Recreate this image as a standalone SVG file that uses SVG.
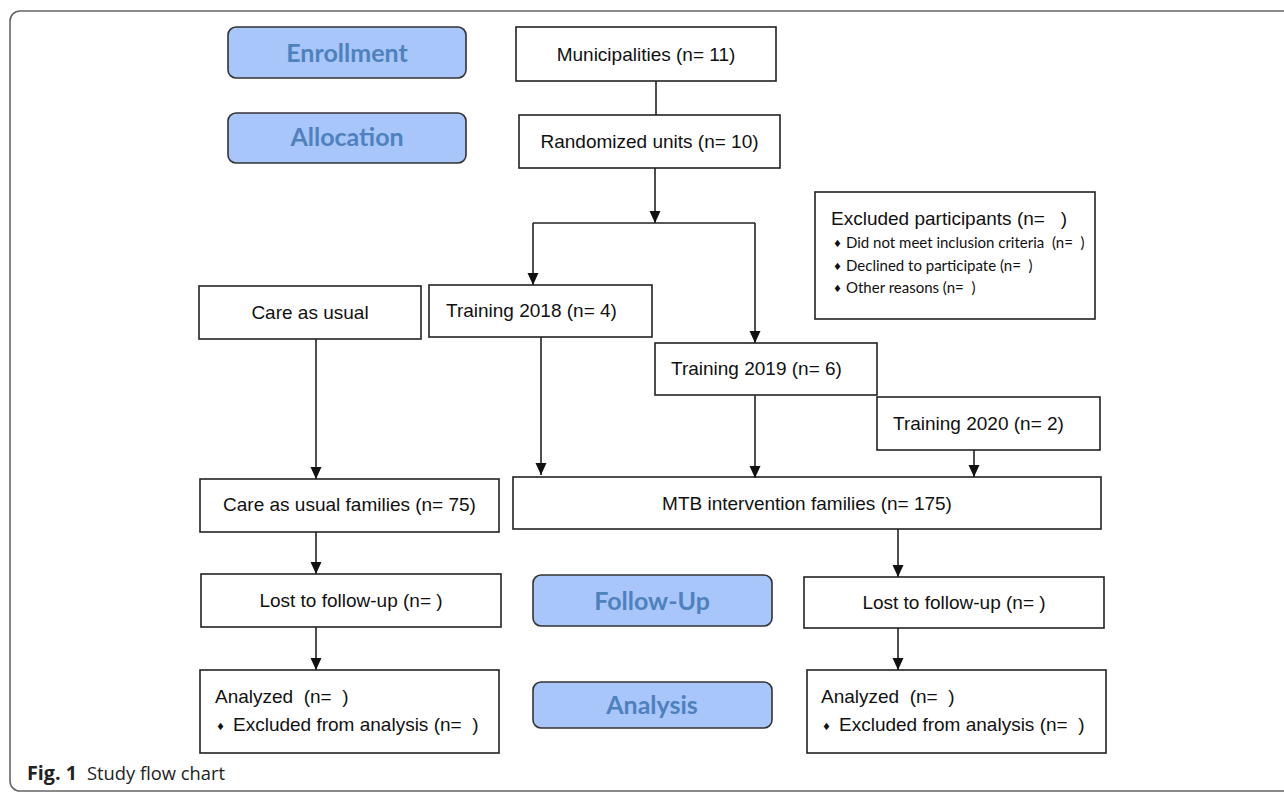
<svg xmlns="http://www.w3.org/2000/svg" width="1284" height="793" viewBox="0 0 1284 793" xml:space="preserve">
<style>
text{white-space:pre}
.box{fill:#fff;stroke:#222;stroke-width:1.6}
.stage{fill:#a8c6fa;stroke:#333;stroke-width:1.6}
.t{font-family:"Liberation Sans",Arial,sans-serif;font-size:19px;fill:#111}
.c{text-anchor:middle}
.sl{font-family:Lato,"Liberation Sans",sans-serif;font-weight:bold;font-size:25px;fill:#4f81bd;text-anchor:middle}
.b{font-family:Lato,"Liberation Sans",sans-serif;font-size:15px;fill:#111}
.dia{font-family:"DejaVu Sans",sans-serif;font-size:10px;fill:#111}
.ln{stroke:#222;stroke-width:1.6;fill:none}
.cap{font-family:"Open Sans",Lato,sans-serif;font-size:19px;fill:#222}
</style>
<defs>
<marker id="ah" markerUnits="userSpaceOnUse" markerWidth="12" markerHeight="12" viewBox="0 0 12 12" refX="12" refY="6" orient="auto">
<path d="M0,0.5 L12,6 L0,11.5 Z" fill="#111"/>
</marker>
</defs>
<rect x="10" y="11" width="1300" height="780" rx="10" ry="10" fill="#fff" stroke="#666" stroke-width="1.6"/>
<g id="enrollment"><rect class="stage" x="228" y="27" width="238" height="51" rx="8"/><text class="sl" x="347" y="62">Enrollment</text></g>
<g id="allocation"><rect class="stage" x="228" y="113" width="238" height="50" rx="8"/><text class="sl" x="347" y="146">Allocation</text></g>
<g id="followup"><rect class="stage" x="533" y="575" width="239" height="51" rx="8"/><text class="sl" x="652" y="610">Follow-Up</text></g>
<g id="analysis"><rect class="stage" x="533" y="682" width="239" height="46" rx="8"/><text class="sl" x="652" y="714">Analysis</text></g>
<g id="municipalities"><rect class="box" x="516" y="27" width="260" height="54"/><text class="t c" x="646" y="61">Municipalities (n= 11)</text></g>
<g id="randomized"><rect class="box" x="519" y="115" width="261" height="53"/><text class="t c" x="649.5" y="148">Randomized units (n= 10)</text></g>
<g id="excluded"><rect class="box" x="815" y="192" width="280" height="127"/>
<text class="t" x="831" y="225">Excluded participants (n=   )</text>
<text class="dia" x="833" y="247">♦</text><text class="b" x="846" y="248">Did not meet inclusion criteria  (n=  )</text>
<text class="dia" x="833" y="270">♦</text><text class="b" x="846" y="271">Declined to participate (n=  )</text>
<text class="dia" x="833" y="292">♦</text><text class="b" x="846" y="293">Other reasons (n=  )</text>
</g>
<g id="care"><rect class="box" x="199" y="286" width="222" height="53"/><text class="t c" x="310" y="319">Care as usual</text></g>
<g id="t2018"><rect class="box" x="429" y="285" width="223" height="52"/><text class="t" x="446" y="317">Training 2018 (n= 4)</text></g>
<g id="t2019"><rect class="box" x="655" y="343" width="222" height="52"/><text class="t" x="671" y="375">Training 2019 (n= 6)</text></g>
<g id="t2020"><rect class="box" x="877" y="397" width="223" height="53"/><text class="t" x="893" y="430">Training 2020 (n= 2)</text></g>
<g id="carefam"><rect class="box" x="200" y="479" width="299" height="53"/><text class="t c" x="349.5" y="511">Care as usual families (n= 75)</text></g>
<g id="mtb"><rect class="box" x="513" y="477" width="588" height="52"/><text class="t c" x="807" y="510">MTB intervention families (n= 175)</text></g>
<g id="lostL"><rect class="box" x="201" y="574" width="300" height="53"/><text class="t c" x="351" y="607">Lost to follow-up (n= )</text></g>
<g id="lostR"><rect class="box" x="804" y="577" width="300" height="51"/><text class="t c" x="954" y="609">Lost to follow-up (n= )</text></g>
<g id="analyzedL"><rect class="box" x="200" y="670" width="299" height="83"/>
<text class="t" x="215" y="703">Analyzed  (n=  )</text>
<text class="dia" x="216" y="730">♦</text><text class="t" x="233" y="731">Excluded from analysis (n=  )</text></g>
<g id="analyzedR"><rect class="box" x="807" y="670" width="299" height="83"/>
<text class="t" x="821" y="703">Analyzed  (n=  )</text>
<text class="dia" x="822" y="730">♦</text><text class="t" x="839" y="731">Excluded from analysis (n=  )</text></g>
<g id="connectors">
<line class="ln" x1="656" y1="81" x2="656" y2="115"/>
<line class="ln" x1="655" y1="168" x2="655" y2="223" marker-end="url(#ah)"/>
<polyline class="ln" points="533,223 755,223"/>
<line class="ln" x1="533" y1="223" x2="533" y2="285" marker-end="url(#ah)"/>
<line class="ln" x1="755" y1="223" x2="755" y2="343" marker-end="url(#ah)"/>
<line class="ln" x1="316" y1="339" x2="316" y2="479" marker-end="url(#ah)"/>
<line class="ln" x1="541" y1="337" x2="541" y2="475" marker-end="url(#ah)"/>
<line class="ln" x1="755" y1="395" x2="755" y2="478" marker-end="url(#ah)"/>
<line class="ln" x1="974" y1="450" x2="974" y2="477" marker-end="url(#ah)"/>
<line class="ln" x1="316" y1="532" x2="316" y2="574" marker-end="url(#ah)"/>
<line class="ln" x1="316" y1="627" x2="316" y2="670" marker-end="url(#ah)"/>
<line class="ln" x1="898" y1="529" x2="898" y2="577" marker-end="url(#ah)"/>
<line class="ln" x1="898" y1="628" x2="898" y2="670" marker-end="url(#ah)"/>
</g>
<text class="cap" x="27" y="780"><tspan font-weight="bold" textLength="50" lengthAdjust="spacingAndGlyphs">Fig. 1</tspan><tspan x="87" textLength="138" lengthAdjust="spacingAndGlyphs">Study flow chart</tspan></text>
</svg>
